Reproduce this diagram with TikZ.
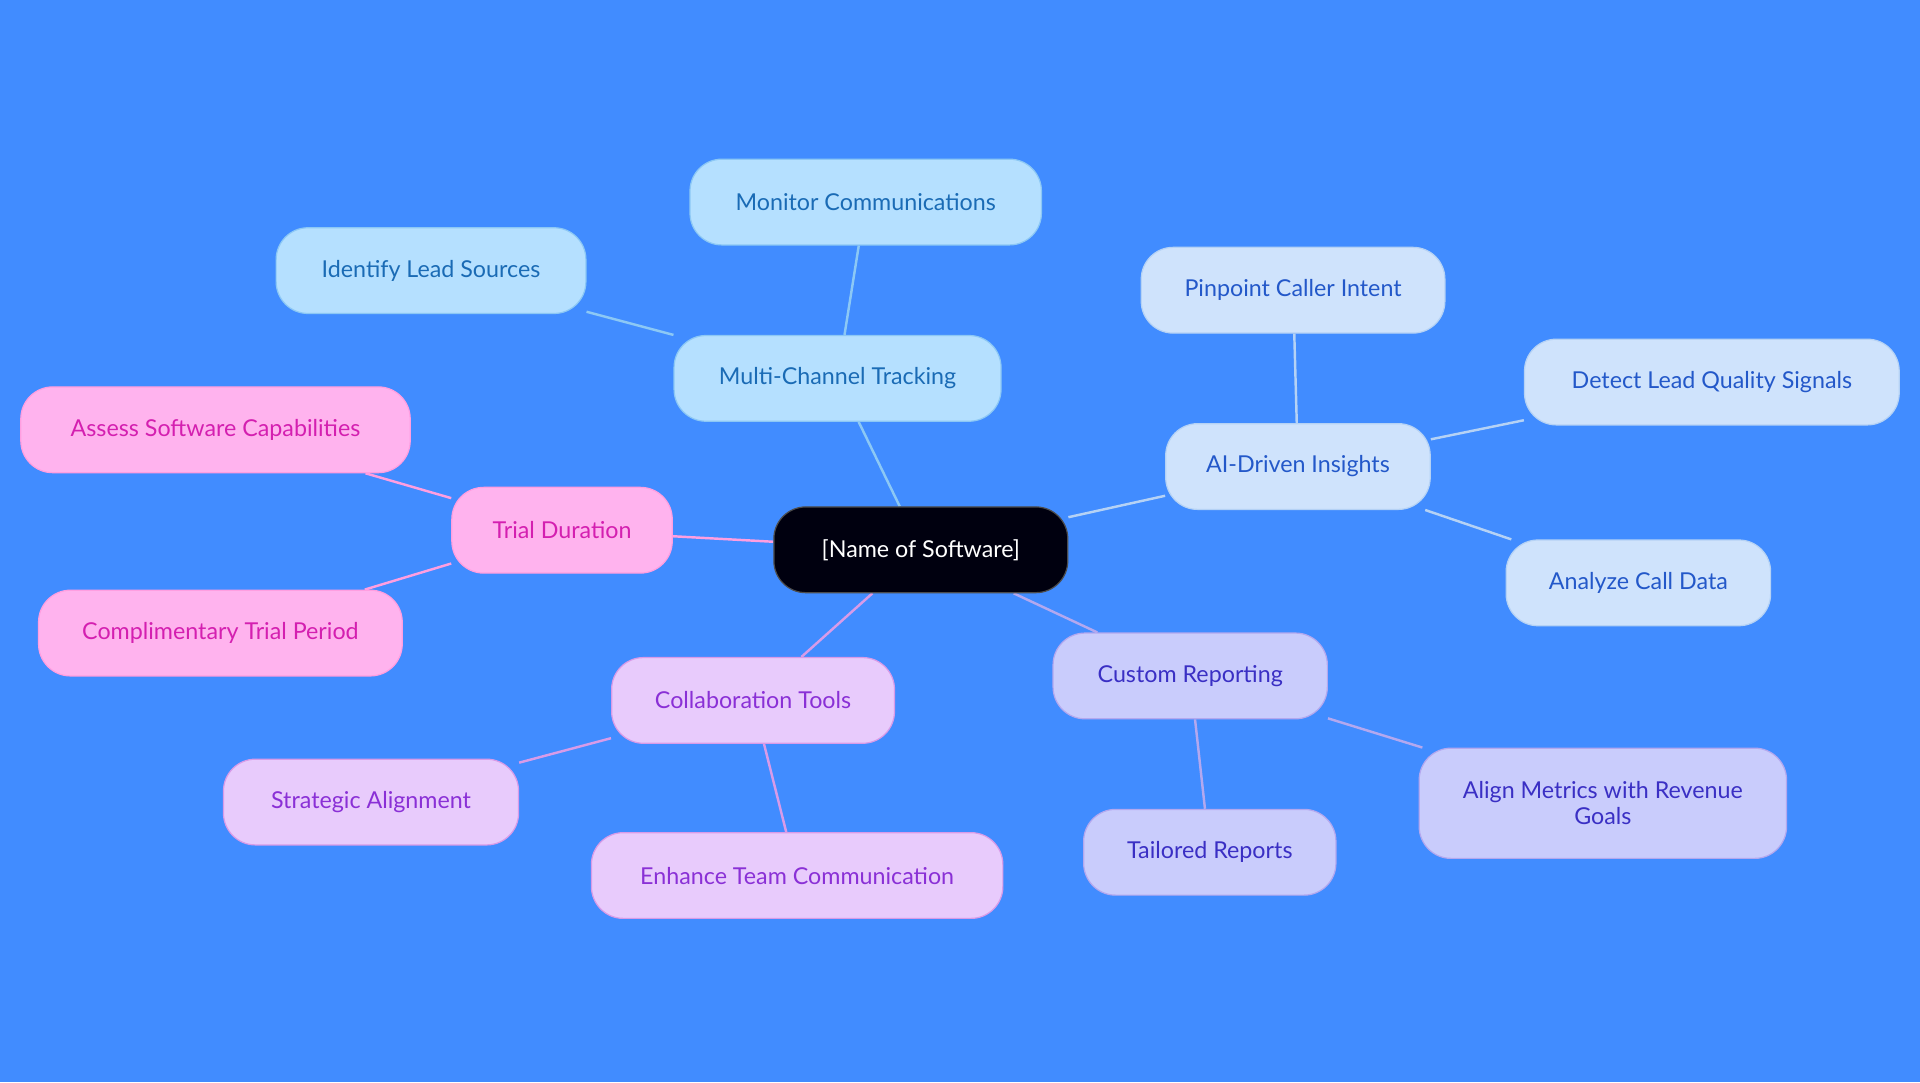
\documentclass[tikz,border=0pt]{standalone}
\usepackage{fontspec}
\setmainfont{Lato}
\usetikzlibrary{backgrounds}
\pgfdeclarelayer{bgzero}
\pgfsetlayers{bgzero,background,main}
\definecolor{bgc}{HTML}{418CFF}
\definecolor{bfill}{HTML}{B5E0FF}\definecolor{btext}{HTML}{1A6BB5}\definecolor{bline}{HTML}{8CC8F5}
\definecolor{afill}{HTML}{CFE3FC}\definecolor{atext}{HTML}{2358C9}\definecolor{aline}{HTML}{B5D2F5}
\definecolor{rfill}{HTML}{C9CCFC}\definecolor{rtext}{HTML}{3A2FC4}\definecolor{rline}{HTML}{B3A8EF}
\definecolor{cfill}{HTML}{E8CBFC}\definecolor{ctext}{HTML}{8A30D6}\definecolor{cline}{HTML}{D89BE8}
\definecolor{tfill}{HTML}{FFB3EE}\definecolor{ttext}{HTML}{D41FB0}\definecolor{tline}{HTML}{FF9EE0}
\tikzset{x=1pt,y=-1pt,
 n/.style={rounded corners=26pt,minimum height=70pt,font=\fontsize{19}{21}\selectfont,align=center,line width=1pt},
 b/.style={n,fill=bfill,draw=bline,text=btext},
 a/.style={n,fill=afill,draw=aline,text=atext},
 r/.style={n,fill=rfill,draw=rline,text=rtext},
 c/.style={n,fill=cfill,draw=cline,text=ctext},
 t/.style={n,fill=tfill,draw=tline,text=ttext},
 e/.style={line width=2pt}}
\begin{document}
\begin{tikzpicture}
\begin{pgfonlayer}{bgzero}\fill[bgc] (0,0) rectangle (1568,884);\end{pgfonlayer}
\useasboundingbox (0,0) rectangle (1568,884);
\node[n,fill=black!90!blue!60!black,draw=black!70,text=white,minimum width=240pt] (m) at (752,449) {[Name of Software]};
\node[b,minimum width=267pt] (mc) at (684,309) {Multi-Channel Tracking};
\node[b,minimum width=287pt] (mo) at (707,165) {Monitor Communications};
\node[b,minimum width=253pt] (il) at (352,221) {Identify Lead Sources};
\node[a,minimum width=216pt] (ai) at (1060,381) {AI-Driven Insights};
\node[a,minimum width=248pt] (pc) at (1056,237) {Pinpoint Caller Intent};
\node[a,minimum width=306pt] (dl) at (1398,312) {Detect Lead Quality Signals};
\node[a,minimum width=216pt] (ac) at (1338,476) {Analyze Call Data};
\node[r,minimum width=224pt] (cr) at (972,552) {Custom Reporting};
\node[r,minimum width=206pt] (tr) at (988,696) {Tailored Reports};
\node[r,minimum width=300pt,minimum height=90pt] (am) at (1309,656) {Align Metrics with Revenue\\Goals};
\node[c,minimum width=231pt] (ct) at (615,572) {Collaboration Tools};
\node[c,minimum width=241pt] (sa) at (303,655) {Strategic Alignment};
\node[c,minimum width=336pt] (et) at (651,715) {Enhance Team Communication};
\node[t,minimum width=180pt] (td) at (459,433) {Trial Duration};
\node[t,minimum width=318pt] (as) at (176,351) {Assess Software Capabilities};
\node[t,minimum width=297pt] (cp) at (180,517) {Complimentary Trial Period};
\begin{pgfonlayer}{background}
\draw[e,bline] (m) -- (mc); \draw[e,bline] (mc) -- (mo); \draw[e,bline] (mc) -- (il);
\draw[e,aline] (m) -- (ai); \draw[e,aline] (ai) -- (pc); \draw[e,aline] (ai) -- (dl); \draw[e,aline] (ai) -- (ac);
\draw[e,rline] (m) -- (cr); \draw[e,rline] (cr) -- (tr); \draw[e,rline] (cr) -- (am);
\draw[e,cline] (m) -- (ct); \draw[e,cline] (ct) -- (sa); \draw[e,cline] (ct) -- (et);
\draw[e,tline] (m) -- (td); \draw[e,tline] (td) -- (as); \draw[e,tline] (td) -- (cp);
\end{pgfonlayer}
\end{tikzpicture}
\end{document}
